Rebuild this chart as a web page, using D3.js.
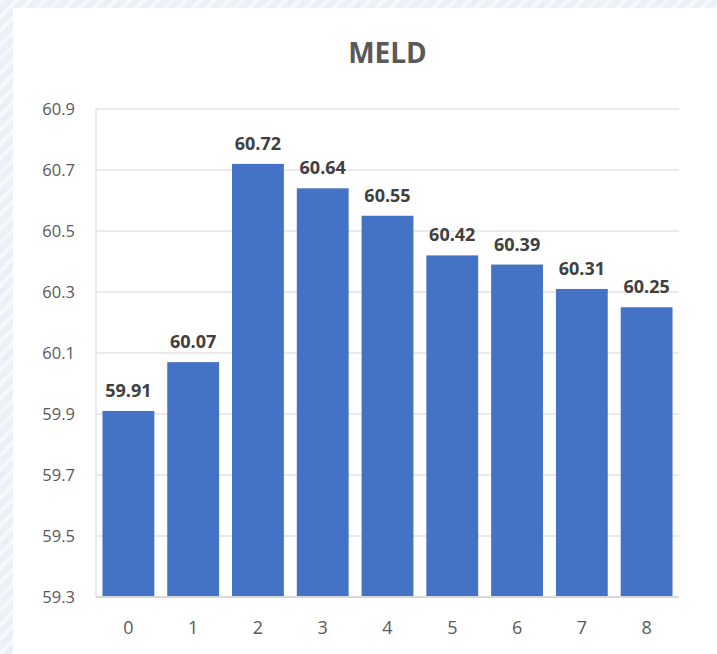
<!DOCTYPE html>
<head>
  <meta charset="utf-8">
  <style>
    body { margin: 0; background: #fff; font-family: "Open Sans", sans-serif; }
  </style>
</head>
<svg width="717" height="654"></svg>
<script src="https://d3js.org/d3.v7.min.js"></script>
<script>
  const categories = ["0", "1", "2", "3", "4", "5", "6", "7", "8"];
  const values = [59.91, 60.07, 60.72, 60.64, 60.55, 60.42, 60.39, 60.31, 60.25];
  const yTicks = [59.3, 59.5, 59.7, 59.9, 60.1, 60.3, 60.5, 60.7, 60.9];
  const title = "MELD";

  const margin = { top: 109, right: 38, bottom: 57, left: 96 },
    width = 717 - margin.left - margin.right,
    height = 654 - margin.top - margin.bottom;

  const svg = d3.select("svg");

  // hatched backdrop along left and top edges
  const defs = svg.append("defs");
  const pat = defs.append("pattern")
    .attr("id", "hatch")
    .attr("patternUnits", "userSpaceOnUse")
    .attr("width", 10).attr("height", 10)
    .attr("patternTransform", "rotate(45)");
  pat.append("rect").attr("width", 10).attr("height", 10).attr("fill", "#e9f0f7");
  pat.append("rect").attr("width", 4).attr("height", 10).attr("fill", "#f6f9fc");

  svg.append("rect").attr("x", 0).attr("y", 0).attr("width", 717).attr("height", 654)
    .attr("fill", "url(#hatch)");
  svg.append("rect").attr("x", 13).attr("y", 8).attr("width", 704).attr("height", 646)
    .attr("fill", "#fff");

  const g = svg.append("g").attr("transform", `translate(${margin.left},${margin.top})`);

  const x = d3.scaleBand().domain(categories).range([0, width]).paddingInner(0.2).paddingOuter(0.1);
  const y = d3.scaleLinear().domain([59.3, 60.9]).range([height, 0]);

  // gridlines
  g.append("g")
    .selectAll("line")
    .data(yTicks)
    .enter().append("line")
    .attr("x1", 0).attr("x2", width)
    .attr("y1", d => y(d)).attr("y2", d => y(d))
    .style("stroke", "#e3e3e3")
    .style("stroke-width", "1.5px");

  // left axis line
  g.append("line")
    .attr("x1", 0).attr("x2", 0).attr("y1", 0).attr("y2", height)
    .style("stroke", "#e3e3e3").style("stroke-width", "1.5px");

  // y labels
  const yAxis = g.append("g")
    .call(d3.axisLeft(y).tickValues(yTicks).tickFormat(d3.format(".1f")).tickSize(0).tickPadding(21));
  yAxis.select(".domain").remove();
  yAxis.selectAll("text")
    .style("font-size", "16.5px")
    .style("fill", "#595959")
    .style("font-family", "Open Sans");

  // bars
  g.append("g")
    .selectAll("rect")
    .data(values)
    .enter().append("rect")
    .attr("x", (d, i) => x(categories[i]))
    .attr("width", x.bandwidth())
    .attr("y", d => y(d))
    .attr("height", d => height - y(d))
    .style("fill", "#4472c4");

  // value labels
  g.append("g")
    .selectAll("text")
    .data(values)
    .enter().append("text")
    .attr("x", (d, i) => x(categories[i]) + x.bandwidth() / 2)
    .attr("y", d => y(d) - 14)
    .attr("text-anchor", "middle")
    .style("font-size", "18px")
    .style("font-weight", "bold")
    .style("fill", "#404040")
    .text(d => d.toFixed(2));

  // x axis line
  g.append("line")
    .attr("x1", 0).attr("x2", width).attr("y1", height).attr("y2", height)
    .style("stroke", "#d9d9d9").style("stroke-width", "2px");

  const xAxis = g.append("g")
    .attr("transform", `translate(0,${height})`)
    .call(d3.axisBottom(x).tickSize(0).tickPadding(24));
  xAxis.select(".domain").remove();
  xAxis.selectAll("text")
    .style("font-size", "18px")
    .style("fill", "#595959")
    .style("font-family", "Open Sans");

  svg.append("text")
    .attr("x", margin.left + width / 2)
    .attr("y", 63)
    .attr("text-anchor", "middle")
    .style("font-size", "28px")
    .style("font-weight", "bold")
    .style("fill", "#595959")
    .text(title);
</script>
